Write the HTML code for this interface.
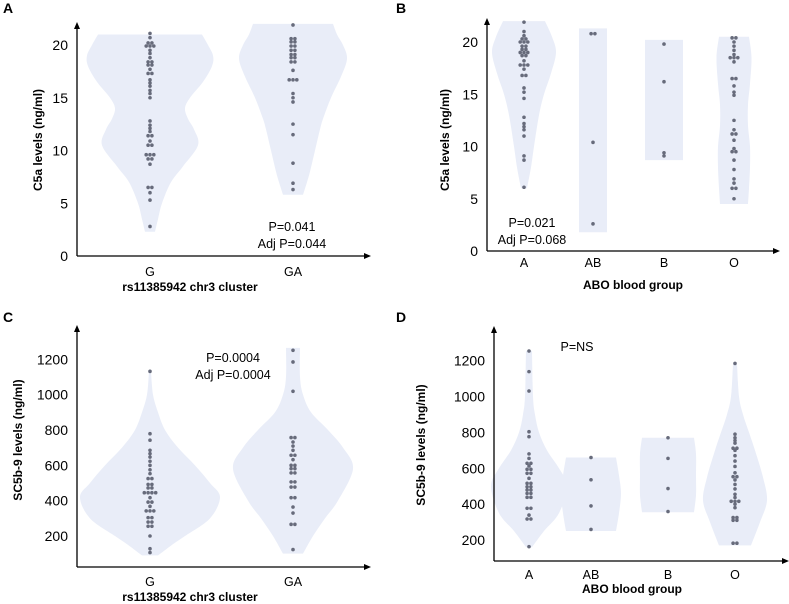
<!DOCTYPE html>
<html><head><meta charset="utf-8"><style>
html,body{margin:0;padding:0;background:#fff;}
svg{display:block;font-family:"Liberation Sans",sans-serif;}
</style></head><body>
<svg id="fig" width="789" height="604" viewBox="0 0 789 604"></svg>
<script>
// ---- Data: panel A (C5a by rs11385942) ----
const catsA = ["G","GA"];
const ticksA = [0,5,10,15,20];
const aG = [2.8,5.3,6.0,6.5,6.5,8.7,9.2,9.2,9.6,9.6,9.6,10.5,10.5,10.9,11.4,11.4,11.8,12.1,12.4,12.8,15.0,15.4,15.7,16.1,16.4,16.7,17.3,17.3,17.7,18.1,18.1,18.4,18.4,18.8,19.2,19.5,19.9,19.9,19.9,20.2,20.2,20.7,21.1];
const aGA = [6.3,6.9,8.8,11.5,12.5,14.6,15.0,15.4,16.7,16.7,16.7,17.6,18.4,18.4,18.8,18.8,19.1,19.1,19.5,19.5,19.9,19.9,20.3,20.3,20.6,20.6,21.9];
const vA_G = [[2.3,5],[3.5,8],[5,12],[7,21],[8.5,33],[10.5,48],[12,44],[13,38],[14,35],[15,40],[16.5,53],[18,62],[19,63],[20,58],[21,52]];
const vA_GA = [[5.8,10],[7,14],[8,17],[10,22],[12,27],[13,30],[15,38],[17,48],[18.7,54],[20,50],[21,44],[22,40]];
// ---- Data: panel B (C5a by ABO) ----
const catsB = ["A","AB","B","O"];
const ticksB = [0,5,10,15,20];
const bA = [6.1,8.7,9.1,11.0,11.6,11.9,12.2,12.8,14.6,15.2,15.6,16.8,16.8,17.4,17.8,17.8,17.8,18.2,18.7,18.7,19.0,19.0,19.0,19.3,19.3,19.6,19.6,20.0,20.0,20.0,20.3,20.3,20.6,21.0,21.9];
const bAB = [2.6,10.4,20.8,20.8];
const bB = [9.1,9.4,16.2,19.8];
const bO = [5.0,6.0,6.0,6.5,6.9,7.8,8.7,9.5,9.5,9.8,10.6,11.2,11.2,11.6,12.5,14.9,15.2,15.8,16.5,16.5,18.1,18.5,18.5,18.5,18.8,19.2,19.6,20.0,20.4,20.4];
const vB_A = [[6,3],[8,7],[10,10],[13,15],[15,20],[17,27],[19,32],[20.5,28],[22,21]];
const vB_AB = [[1.8,14],[21.3,14]];
const vB_B = [[8.7,19],[20.2,19]];
const vB_O = [[4.5,14],[6,15],[8,16],[10,16],[12,14],[14,14],[16,16],[18.5,17.5],[20.5,15]];
// ---- Data: panel C (SC5b-9 by rs11385942) ----
const catsC = ["G","GA"];
const ticksC = [200,400,600,800,1000,1200];
const cG = [106,128,200,255,255,279,279,304,304,342,342,342,368,392,392,417,445,445,445,445,472,472,492,492,525,525,553,575,600,623,647,666,685,742,779,1132];
const cGA = [123,266,266,330,364,417,417,477,477,506,506,557,557,581,581,600,600,632,657,657,685,709,732,757,757,1019,1185,1251];
const vC_G = [[90,8],[150,22],[200,35],[300,60],[420,70],[500,60],[600,45],[700,28],[800,15],[900,8],[1000,3],[1130,1]];
const vC_GA = [[100,10],[200,20],[300,32],[400,45],[580,60],[700,50],[800,35],[900,18],[1000,10],[1100,7],[1265,7]];
// ---- Data: panel D (SC5b-9 by ABO) ----
const catsD = ["A","AB","B","O"];
const ticksD = [200,400,600,800,1000,1200];
const dA = [163,317,317,339,377,377,438,438,460,460,479,479,497,497,516,516,544,572,572,594,594,613,628,628,655,680,776,804,1031,1139,1254];
const dAB = [259,390,536,660];
const dB = [359,487,655,770];
const dO = [182,182,310,310,325,325,380,400,416,416,416,437,455,485,510,535,553,553,575,610,640,670,700,712,712,740,755,770,790,1185];
const vD_A = [[160,3],[250,15],[350,30],[500,38],[600,30],[700,18],[800,10],[900,6],[1000,4],[1255,3]];
const vD_AB = [[250,25],[350,28],[460,30],[560,28],[660,25]];
const vD_B = [[355,26],[450,28],[560,28],[680,28],[770,26]];
const vD_O = [[170,16],[300,25],[420,32],[550,28],[700,20],[800,14],[900,8],[1000,4],[1180,2]];

const svg = document.getElementById('fig');
const NS = 'http://www.w3.org/2000/svg';
function mk(tag, attrs, parent){const e=document.createElementNS(NS,tag);for(const k in attrs)e.setAttribute(k,attrs[k]);(parent||svg).appendChild(e);return e;}

function smoothPath(pts){
  let d='M'+pts[0][0]+','+pts[0][1];
  for(let i=0;i<pts.length-1;i++){
    const p0=pts[i-1]||pts[i],p1=pts[i],p2=pts[i+1],p3=pts[i+2]||p2;
    const c1=[p1[0]+(p2[0]-p0[0])/6,p1[1]+(p2[1]-p0[1])/6];
    const c2=[p2[0]-(p3[0]-p1[0])/6,p2[1]-(p3[1]-p1[1])/6];
    d+=' C'+c1[0]+','+c1[1]+' '+c2[0]+','+c2[1]+' '+p2[0]+','+p2[1];
  }
  return d;
}

function panel(cfg){
  const g=mk('g',{});
  
  
  const y=v=>cfg.y0-(v-cfg.v0)*cfg.k;
  const x=i=>cfg.xs[i];
  const lt=mk('text',{x:cfg.letter[0],y:cfg.letter[1],'font-size':14,'font-weight':'bold',fill:'#000'},g);
  lt.textContent=cfg.letterText;
  
  
  cfg.violins.forEach((vp,i)=>{
    const cx=x(i);
    const right=vp.map(p=>[cx+p[1],y(p[0])]);
    const left=vp.slice().reverse().map(p=>[cx-p[1],y(p[0])]);
    const lp=smoothPath(left);
    const d=smoothPath(right)+' L'+left[0][0]+','+left[0][1]+lp.slice(lp.indexOf(' '))+' Z';
    const path=mk('path',{d:d,fill:'#e9edf8',stroke:'none'},g);
    
    
  });
  cfg.series.forEach((vals,i)=>{
    const cx=x(i);
    const sorted=vals.slice().sort((a,b)=>a-b);
    const clusters=[];
    sorted.forEach(v=>{
      const py=y(v);
      const last=clusters[clusters.length-1];
      if(last&&Math.abs(last.py-py)<1.5)last.vals.push(v);else clusters.push({py:py,vals:[v]});
    });
    clusters.forEach(c=>{
      const n=c.vals.length;
      c.vals.forEach((v,j)=>{
        const dot=mk('circle',{cx:cx+(j-(n-1)/2)*3.8,cy:y(v),r:1.8,fill:'#676b7b'},g);
        
        
      });
    });
  });
  const ax=mk('g',{stroke:'#000','stroke-width':1.3},g);
  
  
  mk('line',{x1:cfg.ax,y1:cfg.axisY,x2:cfg.ax,y2:cfg.top+5},ax);
  mk('line',{x1:cfg.ax,y1:cfg.axisY,x2:cfg.right-5,y2:cfg.axisY},ax);
  mk('path',{d:`M${cfg.ax-3},${cfg.top+7} L${cfg.ax},${cfg.top} L${cfg.ax+3},${cfg.top+7} Z`,fill:'#000',stroke:'none'},g);
  mk('path',{d:`M${cfg.right-7},${cfg.axisY-3} L${cfg.right},${cfg.axisY} L${cfg.right-7},${cfg.axisY+3} Z`,fill:'#000',stroke:'none'},g);
  cfg.ticks.forEach(t=>{
    const tx=mk('text',{x:cfg.ax-9,y:y(t)+5,'font-size':14,'text-anchor':'end',fill:'#000'},g);
    tx.textContent=t;
    
    
  });
  cfg.cats.forEach((c,i)=>{
    const tx=mk('text',{x:x(i),y:cfg.catY,'font-size':12.5,'text-anchor':'middle',fill:'#000'},g);
    tx.textContent=c;
    
    
  });
  const xt=mk('text',{x:cfg.xtitle[0],y:cfg.xtitle[1],'font-size':12,'font-weight':'bold','text-anchor':'middle',fill:'#000'},g);
  xt.textContent=cfg.xtitleText;
  
  
  const yt=mk('text',{x:0,y:0,'font-size':12,'font-weight':'bold','text-anchor':'middle',fill:'#000',transform:`translate(${cfg.ytitle[0]},${cfg.ytitle[1]}) rotate(-90)`},g);
  yt.textContent=cfg.ytitleText;
  
  
  cfg.notes.forEach(nt=>{
    const tx=mk('text',{x:nt[0],y:nt[1],'font-size':12.5,'text-anchor':'middle',fill:'#000'},g);
    tx.textContent=nt[2];
    
    
  });
}

panel({name:'panel-a',letterText:'A',letter:[3,13],cats:catsA,ticks:ticksA,series:[aG,aGA],violins:[vA_G,vA_GA],
  y0:256,v0:0,k:10.55,xs:[150,293],ax:77,axisY:256,top:22,right:371,catY:276,xtitle:[190,291],xtitleText:'rs11385942 chr3 cluster',
  ytitle:[42,140],ytitleText:'C5a levels (ng/ml)',notes:[[292,231,'P=0.041'],[292,248,'Adj P=0.044']]});
panel({name:'panel-b',letterText:'B',letter:[396,13],cats:catsB,ticks:ticksB,series:[bA,bAB,bB,bO],violins:[vB_A,vB_AB,vB_B,vB_O],
  y0:251,v0:0,k:10.45,xs:[524,593,664,734],ax:487,axisY:251,top:18,right:780,catY:267,xtitle:[633,289],xtitleText:'ABO blood group',
  ytitle:[449,140],ytitleText:'C5a levels (ng/ml)',notes:[[532,227,'P=0.021'],[532,244,'Adj P=0.068']]});
panel({name:'panel-c',letterText:'C',letter:[3,322],cats:catsC,ticks:ticksC,series:[cG,cGA],violins:[vC_G,vC_GA],
  y0:536,v0:200,k:0.1767,xs:[150,293],ax:77,axisY:567,top:325,right:371,catY:586,xtitle:[190,601],xtitleText:'rs11385942 chr3 cluster',
  ytitle:[22,440],ytitleText:'SC5b-9 levels (ng/ml)',notes:[[233,362,'P=0.0004'],[233,379,'Adj P=0.0004']]});
panel({name:'panel-d',letterText:'D',letter:[396,322],cats:catsD,ticks:ticksD,series:[dA,dAB,dB,dO],violins:[vD_A,vD_AB,vD_B,vD_O],
  y0:540,v0:200,k:0.1793,xs:[529,591,668,735],ax:494,axisY:561,top:326,right:789,catY:579,xtitle:[632,593],xtitleText:'ABO blood group',
  ytitle:[425,445],ytitleText:'SC5b-9 levels (ng/ml)',notes:[[577,351,'P=NS']]});
</script>
</body></html>
